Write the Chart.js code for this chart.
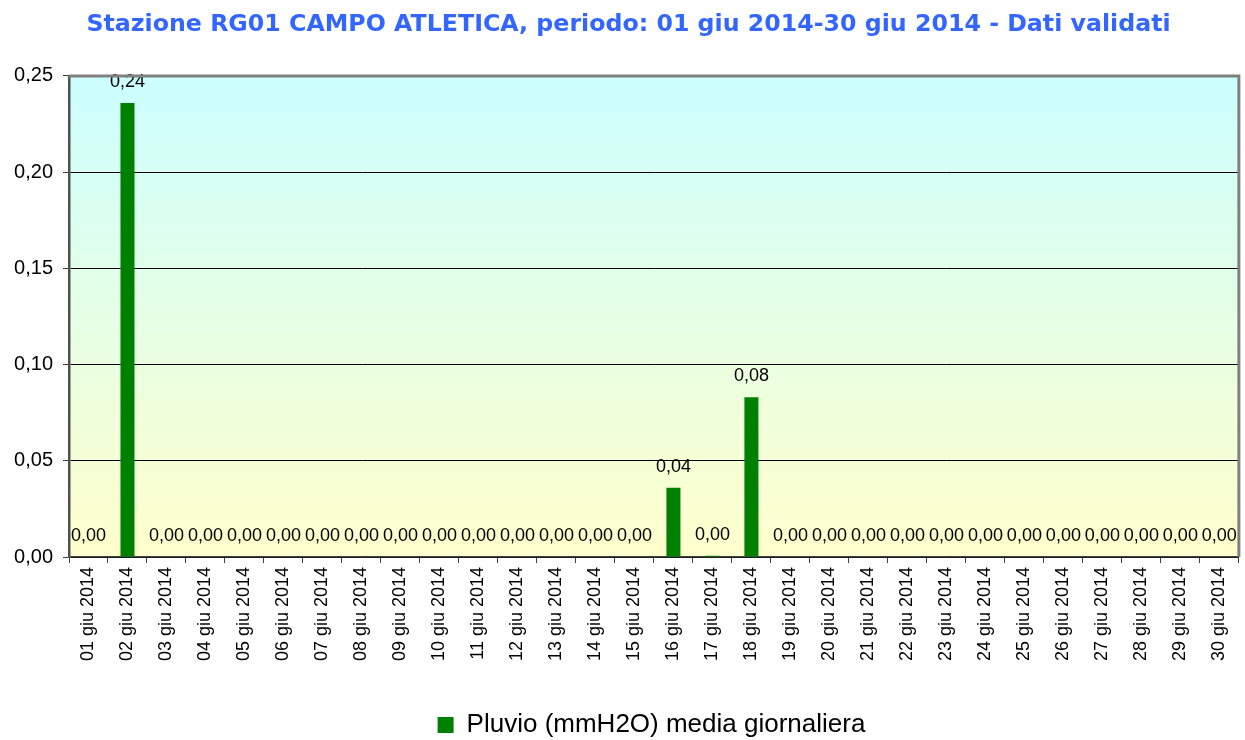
<!DOCTYPE html>
<html>
<head>
<meta charset="utf-8">
<script src="https://cdn.jsdelivr.net/npm/chart.js@4"></script>
<style>
  html, body { margin: 0; padding: 0; background: #fff; }
  #wrap { width: 1245px; height: 740px; }
</style>
</head>
<body>
<div id="wrap"><canvas id="rainChart" width="1245" height="740"></canvas></div>
<script>
// =======================
// DATA
// =======================
const days = [
  '01 giu 2014', '02 giu 2014', '03 giu 2014', '04 giu 2014', '05 giu 2014',
  '06 giu 2014', '07 giu 2014', '08 giu 2014', '09 giu 2014', '10 giu 2014',
  '11 giu 2014', '12 giu 2014', '13 giu 2014', '14 giu 2014', '15 giu 2014',
  '16 giu 2014', '17 giu 2014', '18 giu 2014', '19 giu 2014', '20 giu 2014',
  '21 giu 2014', '22 giu 2014', '23 giu 2014', '24 giu 2014', '25 giu 2014',
  '26 giu 2014', '27 giu 2014', '28 giu 2014', '29 giu 2014', '30 giu 2014'
];
const pluvioValues = [
  0, 0.236, 0, 0, 0, 0, 0, 0, 0, 0,
  0, 0, 0, 0, 0, 0.036, 0.0007, 0.083, 0, 0,
  0, 0, 0, 0, 0, 0, 0, 0, 0, 0
];
const yTicks = [0, 0.05, 0.10, 0.15, 0.20, 0.25];

const chartTitle = 'Stazione RG01 CAMPO ATLETICA, periodo: 01 giu 2014-30 giu 2014 - Dati validati';
const seriesName = 'Pluvio (mmH2O) media giornaliera';

const fmt = v => v.toFixed(2).replace('.', ',');

// =======================
// PLOT BACKGROUND + FRAME
// =======================
const plotFrame = {
  id: 'plotFrame',
  afterLayout(chart) {
    // the original is a little off-centre: nudge title and legend
    const t = chart.titleBlock, l = chart.legend;
    if (t) { t.left += 7; t.right += 7; }
    if (l) { l.left += 30; l.right += 30; l.top += 8; l.bottom += 8; }
  },
  beforeDraw(chart) {
    const { ctx, chartArea: a } = chart;
    const g = ctx.createLinearGradient(0, a.top, 0, a.bottom);
    g.addColorStop(0, '#CCFFFF');
    g.addColorStop(1, '#FFFFCC');
    ctx.save();
    ctx.fillStyle = g;
    ctx.fillRect(a.left, a.top, a.right - a.left, a.bottom - a.top);
    ctx.restore();
  },
  afterDraw(chart) {
    const { ctx, chartArea: a } = chart;
    ctx.save();
    ctx.strokeStyle = '#808080';
    ctx.lineWidth = 3;
    ctx.beginPath();
    ctx.moveTo(a.left, a.top);
    ctx.lineTo(a.right, a.top);
    ctx.lineTo(a.right, a.bottom);
    ctx.stroke();
    ctx.restore();
  }
};

// =======================
// VALUE LABELS
// =======================
const valueLabels = {
  id: 'valueLabels',
  afterDatasetsDraw(chart) {
    const { ctx } = chart;
    const meta = chart.getDatasetMeta(0);
    ctx.save();
    ctx.font = '18px "Liberation Sans", Arial, sans-serif';
    ctx.fillStyle = '#000';
    ctx.textAlign = 'center';
    ctx.textBaseline = 'middle';
    meta.data.forEach((bar, i) => {
      ctx.fillText(fmt(pluvioValues[i]), bar.x, bar.y - 21);
    });
    ctx.restore();
  }
};

// =======================
// CHART
// =======================
new Chart(document.getElementById('rainChart'), {
  type: 'bar',
  data: {
    labels: days,
    datasets: [{
      label: seriesName,
      data: pluvioValues,
      backgroundColor: '#008000',
      borderWidth: 0,
      categoryPercentage: 1,
      barPercentage: 0.36
    }]
  },
  options: {
    responsive: false,
    animation: false,
    layout: { padding: { left: 0, right: 2, top: 0, bottom: 0 } },
    plugins: {
      title: {
        display: true,
        text: chartTitle,
        color: '#3366FF',
        font: { family: '"DejaVu Sans", Verdana, sans-serif', size: 23.7, weight: 'bold', lineHeight: 1.2 },
        padding: { top: 10.5, bottom: 37 }
      },
      legend: {
        position: 'bottom',
        labels: {
          color: '#000',
          font: { family: '"Liberation Sans", Arial, sans-serif', size: 26 },
          boxWidth: 16,
          boxHeight: 16,
          padding: 8
        }
      },
      tooltip: { enabled: false }
    },
    scales: {
      x: {
        grid: {
          drawOnChartArea: false,
          drawTicks: true,
          tickLength: 6,
          color: '#404040'
        },
        border: { color: '#404040', width: 1.5 },
        ticks: {
          color: '#000',
          font: { family: '"Liberation Sans", Arial, sans-serif', size: 18 },
          minRotation: 90,
          maxRotation: 90,
          autoSkip: false,
          padding: 4
        },
        afterFit(scale) { scale.height = 139; }
      },
      y: {
        min: 0,
        max: 0.25,
        afterBuildTicks(scale) { scale.ticks = yTicks.map(v => ({ value: v })); },
        grid: {
          color: '#000',
          lineWidth: 1,
          tickLength: 6,
          tickColor: '#404040'
        },
        border: { color: '#505050', width: 2.5 },
        ticks: {
          color: '#000',
          font: { family: '"Liberation Sans", Arial, sans-serif', size: 20 },
          padding: 10,
          callback: v => fmt(v)
        },
        afterFit(scale) { scale.width = 69; }
      }
    }
  },
  plugins: [plotFrame, valueLabels]
});
</script>
</body>
</html>
